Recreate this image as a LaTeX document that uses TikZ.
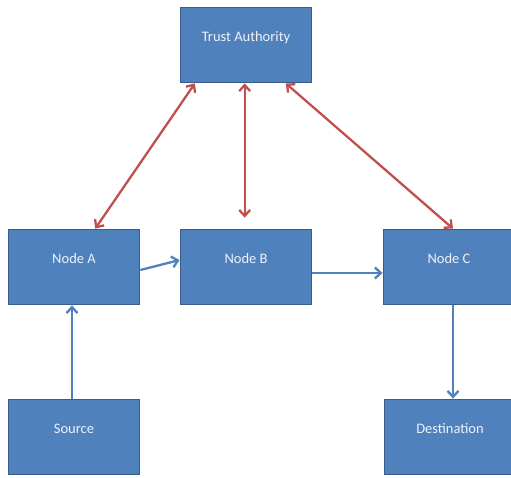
\documentclass[tikz,border=0pt]{standalone}
\usepackage{fontspec}
\setmainfont{Carlito}
\usetikzlibrary{arrows.meta,calc}
\definecolor{boxfill}{HTML}{4F81BD}
\definecolor{boxborder}{HTML}{385D8A}
\definecolor{redarrow}{HTML}{C0504D}
\definecolor{bluearrow}{HTML}{4F81BD}
\definecolor{boxtext}{HTML}{EEF2F8}
\tikzset{
  box/.style={draw=boxborder, line width=1.8pt, fill=boxfill,
    minimum width=131pt, minimum height=75pt, inner sep=0pt,
    text=boxtext, font=\fontsize{14.5}{17}\selectfont,
    text height=8pt, text depth=16pt},
  redlink/.style={draw=redarrow, line width=2.3pt,
    {Straight Barb[length=6pt,width=11pt]}-{Straight Barb[length=6pt,width=11pt]}},
  bluelink/.style={draw=bluearrow, line width=2.3pt,
    -{Straight Barb[length=6pt,width=11pt]}}
}
\begin{document}
\begin{tikzpicture}[x=1pt,y=-1pt]
\path[use as bounding box, clip] (0,0) rectangle (511,477);
\node[box] (ta) at (246,45) {Trust Authority};
\node[box] (a) at (74,267) {Node A};
\node[box] (b) at (246,267) {Node B};
\node[box] (c) at (449,267) {Node C};
\node[box] (src) at (74,437) {Source};
\node[box] (dst) at (450,437) {Destination};
% red links
\draw[redlink] ($(ta.south west)!0.115!(ta.south east)$) -- ($(a.north west)!0.66!(a.north east)$);
\draw[redlink] ($(ta.south west)!0.49!(ta.south east)$) -- ($(b.north west)!0.49!(b.north east)+(0,-11)$);
\draw[redlink] ($(ta.south west)!0.80!(ta.south east)$) -- ($(c.north west)!0.53!(c.north east)$);
% blue links
\draw[bluelink] ($(a.east)+(0,3)$) -- ($(b.west)+(0,-7)$);
\draw[bluelink] ($(b.east)+(0,6)$) -- ($(c.west)+(0,6)$);
\draw[bluelink] ($(src.north)+(-2,0)$) -- ($(a.south)+(-2,0)$);
\draw[bluelink] ($(c.south)+(4,0)$) -- ($(dst.north)+(3,0)$);
\end{tikzpicture}
\end{document}
